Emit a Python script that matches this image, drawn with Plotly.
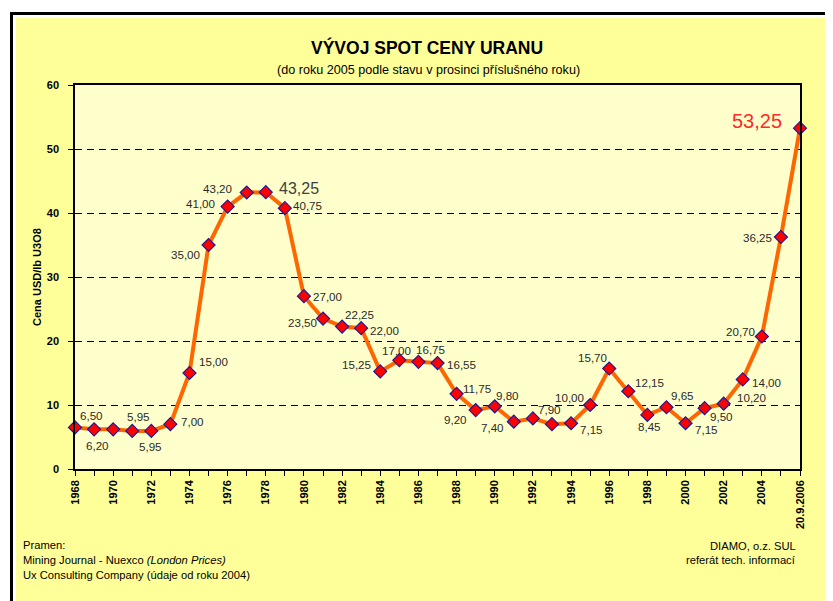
import plotly.graph_objects as go

# ---- data ----
years = list(range(1968, 2007))
tick_labels = [str(y) if y % 2 == 0 else "" for y in range(1968, 2006)] + ["20.9.2006"]
prices = [6.50, 6.20, 6.20, 5.95, 5.95, 7.00, 15.00, 35.00, 41.00, 43.20,
          43.25, 40.75, 27.00, 23.50, 22.25, 22.00, 15.25, 17.00, 16.75, 16.55,
          11.75, 9.20, 9.80, 7.40, 7.90, 7.00, 7.15, 10.00, 15.70, 12.15,
          8.45, 9.65, 7.15, 9.50, 10.20, 14.00, 20.70, 36.25, 53.25]
labeled = [True, True, False] + [True] * 22 + [False] + [True] * 13

# label offsets in pixels (style only)
offsets = [(16, 12), (3, -16), None, (6, 14), (-1, -16), (22, 3), (24, 12), (-23, -9),
           (-27, 3), (-29, 4), (33, 4), (23, 3), (24, 0), (-21, -4), (17, 12), (23, -2),
           (-24, 7), (-3, 10), (12, 12), (24, -1), (20, 5), (-20, -9), (13, 11), (-21, -6),
           (17, 9), None, (20, -6), (-21, 8), (-17, 11), (21, 9), (2, -12), (16, 12),
           (21, -6), (17, -8), (28, 6), (24, -3), (-21, 5), (-23, 0), (-43, 7)]

FONT = "Arial, Liberation Sans, sans-serif"
OFF = 8  # page body margin
L, R, T, B = 75, 800, 85, 469  # plot area in screenshot pixels
W, H = 833, 601


def px(xp):
    return (xp - L) / (R - L)


def py(yp):
    return (B - yp) / (B - T)


fig = go.Figure()
fig.add_trace(go.Scatter(
    x=years, y=prices, mode="lines+markers",
    line=dict(color="#FF6600", width=4),
    marker=dict(symbol="diamond", size=10, color="#FF0000",
                line=dict(color="#1A1A9A", width=1.2)),
    cliponaxis=False, showlegend=False, hoverinfo="x+y"))

annotations = []
for i, (yr, v) in enumerate(zip(years, prices)):
    if not labeled[i]:
        continue
    dx, dy = offsets[i]
    txt = f"{v:.2f}".replace(".", ",")
    font = dict(family=FONT, size=11.6, color="#2A2A2A")
    if yr == 1978:
        font = dict(family=FONT, size=16, color="#404040")
    if yr == 2006:
        font = dict(family=FONT, size=20, color="#FF2A2A")
    annotations.append(dict(x=yr, y=v, xref="x", yref="y", text=txt, showarrow=False,
                            xshift=dx, yshift=dy, xanchor="center", yanchor="middle",
                            font=font))

# titles
annotations.append(dict(x=px(427), y=py(48), xref="paper", yref="paper",
                        text="<b>VÝVOJ SPOT CENY URANU</b>", showarrow=False,
                        font=dict(family=FONT, size=17.5, color="#000000"),
                        xanchor="center", yanchor="middle"))
annotations.append(dict(x=px(428), y=py(70), xref="paper", yref="paper",
                        text="(do roku 2005 podle stavu v prosinci příslušného roku)", showarrow=False,
                        font=dict(family=FONT, size=12.6, color="#000000"),
                        xanchor="center", yanchor="middle"))
annotations.append(dict(x=px(37), y=py(277), xref="paper", yref="paper",
                        text="<b>Cena USD/lb U3O8</b>", showarrow=False, textangle=-90,
                        font=dict(family=FONT, size=11, color="#000000"),
                        xanchor="center", yanchor="middle"))
# footer
foot_left = ["Pramen:", "Mining Journal - Nuexco <i>(London Prices)</i>",
             "Ux Consulting Company (údaje od roku 2004)"]
for k, t in enumerate(foot_left):
    annotations.append(dict(x=px(21), y=py(545 + 15 * k), xref="paper", yref="paper",
                            text=t, showarrow=False, xanchor="left", yanchor="middle",
                            font=dict(family=FONT, size=11.2, color="#000000")))
foot_right = ["DIAMO, o.z. SUL", "referát tech. informací"]
for k, t in enumerate(foot_right):
    annotations.append(dict(x=px(798), y=py(546 + 14 * k), xref="paper", yref="paper",
                            text=t, showarrow=False, xanchor="right", yanchor="middle",
                            font=dict(family=FONT, size=11.2, color="#000000")))

shapes = [
    dict(type="rect", xref="paper", yref="paper", x0=px(11.5), x1=px(860), y0=py(660), y1=py(13.5),
         fillcolor="#FFFFFF", line=dict(color="#000000", width=3), layer="below"),
    dict(type="rect", xref="paper", yref="paper", x0=px(16), x1=px(860), y0=py(660), y1=py(18),
         fillcolor="#FFFF99", line=dict(width=0), layer="below"),
    dict(type="rect", xref="paper", yref="paper", x0=0, x1=1, y0=0, y1=1,
         fillcolor="#FFFFCC", line=dict(width=0), layer="below"),
]

fig.update_layout(
    width=W, height=H,
    margin=dict(l=L - OFF, r=W - (R - OFF), t=T - OFF, b=H - (B - OFF)),
    paper_bgcolor="#FFFFFF", plot_bgcolor="#FFFFCC",
    annotations=annotations, shapes=shapes, showlegend=False,
    xaxis=dict(range=[1968, 2006], tickmode="array", tickvals=years, ticktext=tick_labels,
               tickangle=-90, ticks="outside", ticklen=5, tickcolor="#000000",
               showgrid=False, zeroline=False, showline=True, linecolor="#000000",
               linewidth=1.5, mirror=True,
               tickfont=dict(family=FONT, size=11, color="#000000", weight="bold")),
    yaxis=dict(range=[0, 60], tickmode="array", tickvals=[0, 10, 20, 30, 40, 50, 60],
               ticks="outside", ticklen=5, tickcolor="#000000", ticklabelstandoff=7,
               showgrid=True, gridcolor="#000000", gridwidth=1, griddash="7px,5px",
               zeroline=False, showline=True, linecolor="#000000", linewidth=1.5, mirror=True,
               tickfont=dict(family=FONT, size=11, color="#000000", weight="bold")),
)

fig.write_html("out.html")
